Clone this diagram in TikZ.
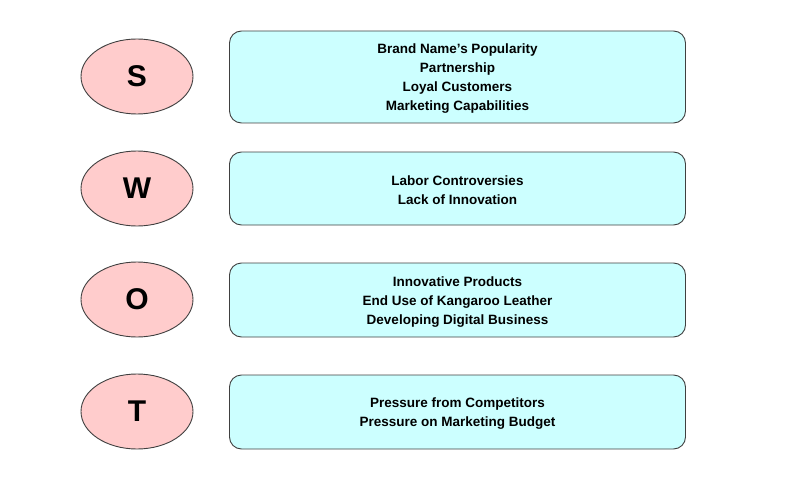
\documentclass[tikz,border=0pt]{standalone}
\usepackage{fontspec}
\setmainfont{Liberation Sans}
\usetikzlibrary{shapes.geometric}
\definecolor{pinkfill}{HTML}{FFCCCC}
\definecolor{cyanfill}{HTML}{CCFFFF}
\definecolor{edge}{HTML}{404040}
\begin{document}
\begin{tikzpicture}[x=1pt,y=-1pt,
  letter/.style={ellipse,draw=edge,fill=pinkfill,line width=0.9pt,minimum width=112pt,minimum height=75pt,inner sep=0pt,font=\fontsize{30}{30}\selectfont\bfseries},
  itembox/.style={rectangle,rounded corners=12pt,draw=edge,fill=cyanfill,line width=0.9pt,minimum width=456pt,inner sep=0pt},
  itemtext/.style={align=center,inner sep=0pt,font=\fontsize{13.5}{19}\selectfont\bfseries}]
\useasboundingbox (0,0) rectangle (800,484);
\node[letter] (s) at (137,76.5) {S};
\node[letter] (w) at (137,188.5) {W};
\node[letter] (o) at (137,299.5) {O};
\node[letter] (t) at (137,411.5) {T};
\node[itembox,minimum height=92pt] (sb) at (457.5,77) {};
\node[itembox,minimum height=73pt] (wb) at (457.5,188.5) {};
\node[itembox,minimum height=74pt] (ob) at (457.5,300) {};
\node[itembox,minimum height=74pt] (tb) at (457.5,412) {};
\node[itemtext] (sbt) at ([yshift=-2pt]sb.center) {Brand Name’s Popularity\\Partnership\\Loyal Customers\\Marketing Capabilities};
\node[itemtext] (wbt) at ([yshift=-1.5pt]wb.center) {Labor Controversies\\Lack of Innovation};
\node[itemtext] (obt) at ([yshift=-2pt]ob.center) {Innovative Products\\End Use of Kangaroo Leather\\Developing Digital Business};
\node[itemtext] (tbt) at ([yshift=-2pt]tb.center) {Pressure from Competitors\\Pressure on Marketing Budget};
\end{tikzpicture}
\end{document}
